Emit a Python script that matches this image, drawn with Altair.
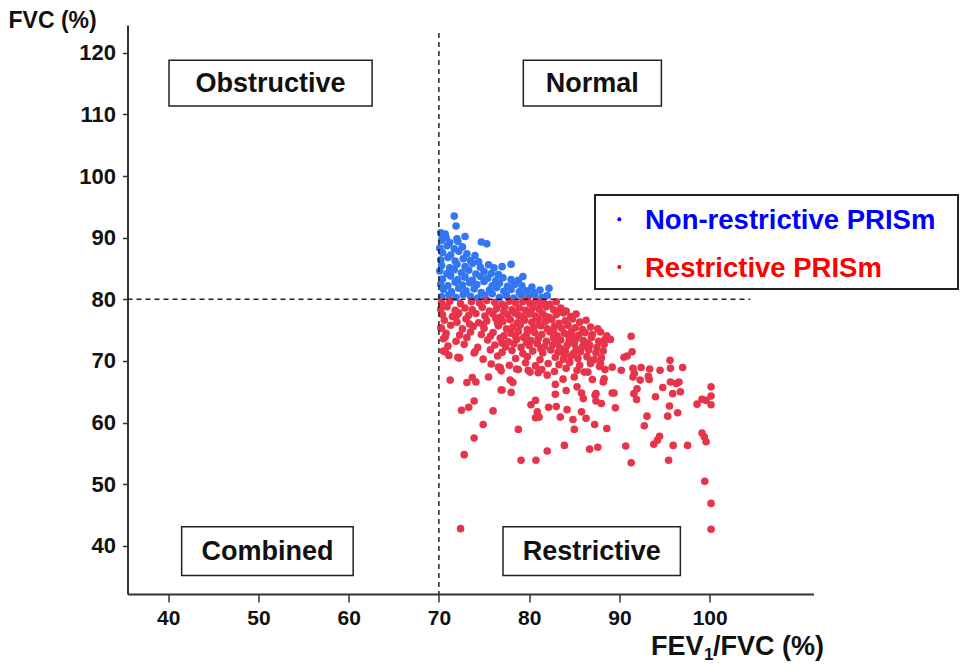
import altair as alt
import pandas as pd

# ---- data ----
blue_pts = [
    (71.7, 93.5), (71.9, 91.9), (70.4, 90.3), (70.7, 90.6), (72.1, 89.4), (72.9, 90.2),
    (74.7, 89.3), (75.3, 89.0), (77.0, 85.3), (78.0, 85.7), (76.1, 85.1), (79.3, 83.7),
    (78.8, 83.1), (82.2, 81.8), (81.2, 81.5), (80.3, 82.0),
    (70.3, 80.4), (71.1, 80.7), (71.9, 80.3), (72.7, 80.8), (73.5, 80.5), (74.3, 80.2),
    (75.1, 80.6), (75.9, 80.9), (76.7, 80.3), (77.5, 80.6), (78.3, 80.2), (79.1, 80.7),
    (79.9, 80.4), (80.6, 80.8), (81.4, 80.3), (82.0, 80.6),
    (70.5, 81.6), (71.4, 81.2), (72.2, 81.8), (73.0, 81.4), (73.9, 81.7), (74.7, 81.1),
    (75.6, 81.5), (76.4, 81.9), (77.2, 81.3), (78.0, 81.6), (78.9, 81.2), (79.7, 81.4),
    (80.5, 81.1),
    (70.2, 82.5), (71.0, 82.2), (71.8, 82.8), (72.6, 82.3), (73.4, 82.7), (74.2, 82.4),
    (75.0, 82.9), (75.9, 82.2), (76.7, 82.6), (77.6, 82.1), (78.4, 82.4), (79.2, 82.2),
    (70.4, 83.3), (71.3, 83.8), (72.1, 83.2), (72.9, 83.6), (73.7, 83.1), (74.6, 83.7),
    (75.4, 83.4), (76.3, 83.0), (77.1, 83.5), (78.0, 83.2),
    (70.1, 84.6), (70.9, 84.2), (71.7, 84.8), (72.5, 84.3), (73.3, 84.7), (74.1, 84.1),
    (75.0, 84.5), (75.8, 84.2), (76.6, 84.0),
    (70.3, 85.5), (71.2, 85.1), (72.0, 85.7), (72.9, 85.3), (73.7, 85.8), (74.6, 85.2),
    (75.5, 85.6),
    (70.2, 86.4), (71.0, 86.8), (71.8, 86.2), (72.7, 86.6), (73.5, 86.3), (74.4, 86.1),
    (70.4, 87.6), (71.3, 87.2), (72.2, 87.8), (73.1, 87.4), (74.0, 87.1),
    (70.1, 88.3), (70.9, 88.7), (71.7, 88.2), (72.6, 88.5),
    (70.3, 89.6), (71.2, 89.2), (72.0, 89.8),
    (70.2, 90.8), (70.8, 90.0),
]

red_pts = [
    # dense cluster
    (70.3, 79.5), (71.2, 79.7), (72.4, 79.3), (73.6, 79.6), (74.5, 79.4), (75.3, 79.8),
    (76.2, 79.5), (77.0, 79.2), (77.8, 79.7), (78.5, 79.4), (79.3, 79.6), (80.1, 79.3),
    (80.8, 79.7), (81.6, 79.5), (82.3, 79.2), (79.8, 79.9), (81.2, 79.1), (83.0, 79.6),
    (70.2, 78.4), (70.9, 78.8), (71.8, 78.2), (72.9, 78.6), (73.7, 78.3), (74.8, 78.7),
    (75.6, 78.1), (76.4, 78.5), (77.3, 78.8), (78.1, 78.3), (78.9, 78.6), (79.6, 78.2),
    (80.4, 78.7), (81.1, 78.4), (81.9, 78.8), (82.7, 78.3), (83.5, 78.6), (84.1, 78.1),
    (70.4, 77.5), (71.5, 77.2), (72.2, 77.8), (73.3, 77.4), (74.1, 77.7), (75.1, 77.3),
    (76.0, 77.6), (76.8, 77.1), (77.6, 77.5), (78.4, 77.8), (79.2, 77.2), (80.0, 77.6),
    (80.7, 77.3), (81.5, 77.7), (82.2, 77.1), (83.0, 77.5), (83.8, 77.8), (84.6, 77.2),
    (85.2, 77.6),
    (70.6, 76.6), (72.0, 76.3), (73.0, 76.8), (74.4, 76.2), (75.3, 76.5), (76.3, 76.9),
    (77.1, 76.4), (77.9, 76.7), (78.7, 76.2), (79.5, 76.6), (80.3, 76.3), (81.0, 76.8),
    (81.8, 76.4), (82.5, 76.7), (83.3, 76.1), (84.0, 76.5), (84.8, 76.8), (85.6, 76.3),
    (86.3, 76.6),
    (70.2, 75.4), (71.3, 75.8), (72.6, 75.2), (73.8, 75.6), (75.0, 75.3), (76.6, 75.7),
    (77.5, 75.2), (78.2, 75.5), (79.0, 75.8), (79.8, 75.1), (80.5, 75.4), (81.3, 75.7),
    (82.0, 75.2), (82.8, 75.6), (83.6, 75.3), (84.3, 75.8), (85.1, 75.4), (85.9, 75.1),
    (86.8, 75.5), (87.6, 75.2),
    (70.8, 74.5), (72.3, 74.2), (73.5, 74.7), (74.7, 74.3), (76.0, 74.6), (77.2, 74.1),
    (78.0, 74.5), (78.8, 74.8), (79.7, 74.2), (80.6, 74.6), (81.4, 74.3), (82.3, 74.7),
    (83.1, 74.1), (83.9, 74.5), (84.7, 74.8), (85.5, 74.2), (86.2, 74.6), (87.0, 74.3),
    (87.9, 74.7), (88.6, 74.1),
    (70.5, 73.6), (71.9, 73.2), (73.1, 73.8), (75.4, 73.4), (76.8, 73.7), (77.7, 73.1),
    (78.6, 73.5), (79.4, 73.8), (80.2, 73.3), (81.0, 73.6), (81.9, 73.2), (82.7, 73.7),
    (83.5, 73.4), (84.4, 73.1), (85.2, 73.6), (86.0, 73.3), (86.9, 73.8), (87.7, 73.2),
    (88.4, 73.5),
    (71.0, 72.4), (72.8, 72.7), (74.3, 72.2), (76.2, 72.6), (77.4, 72.3), (78.3, 72.8),
    (79.1, 72.2), (80.0, 72.5), (80.9, 72.8), (81.7, 72.3), (82.6, 72.6), (83.4, 72.1),
    (84.2, 72.5), (85.0, 72.8), (85.9, 72.3), (86.7, 72.6), (87.5, 72.2), (88.3, 72.7),
    (70.7, 71.5), (73.9, 71.3), (75.7, 71.8), (77.0, 71.4), (78.1, 71.7), (79.3, 71.2),
    (80.4, 71.6), (81.5, 71.3), (82.4, 71.8), (83.2, 71.4), (84.0, 71.7), (84.9, 71.2),
    (85.7, 71.5), (86.6, 71.8), (87.4, 71.3), (88.2, 71.6),
    (72.1, 70.6), (74.9, 70.3), (76.5, 70.8), (78.5, 70.4), (79.8, 70.7), (81.2, 70.2),
    (82.9, 70.6), (83.8, 70.3), (84.6, 70.8), (85.4, 70.4), (86.4, 70.7), (87.2, 70.2),
    (88.0, 70.5),
    (75.8, 69.5), (77.8, 69.3), (79.6, 69.7), (80.7, 69.2), (82.1, 69.6), (83.3, 69.4),
    (84.5, 69.8), (85.6, 69.3), (86.8, 69.6), (87.8, 69.1),
    (76.9, 68.4), (78.6, 68.7), (80.1, 68.2), (81.4, 68.6), (82.8, 68.3), (84.1, 68.8),
    (85.3, 68.5), (86.5, 68.2), (88.4, 68.6),
    # extra fill in the densest part
    (77.2, 78.0), (78.8, 77.4), (80.2, 78.0), (81.8, 77.2), (83.2, 77.9), (79.4, 76.9),
    (81.1, 75.9), (82.7, 75.0), (84.4, 74.0), (80.4, 74.9), (78.5, 74.0), (83.1, 73.0),
    (84.9, 73.9), (86.4, 72.9), (81.3, 72.0), (79.7, 73.0), (77.0, 72.9), (74.9, 75.9),
    (73.4, 76.0), (72.0, 77.4), (75.7, 74.0), (76.5, 76.1), (85.2, 71.9), (83.9, 70.9),
    # sparse tail
    (71.25, 66.9), (73.1, 66.5), (73.7, 67.3), (74.1, 66.6), (75.5, 67.4), (76.6, 69.0),
    (77.0, 65.3), (78.0, 64.9), (78.2, 66.5), (73.9, 63.5), (71.1, 70.9), (72.3, 70.5),
    (70.7, 73.9), (70.3, 75.3), (72.5, 62.0), (73.3, 62.5), (76.0, 61.9), (74.9, 59.7),
    (73.9, 57.5), (72.8, 54.8), (72.4, 42.8), (78.8, 58.9), (79.1, 53.9), (80.75, 53.9),
    (82.0, 55.4), (83.9, 56.3), (86.7, 55.7), (87.6, 56.0), (88.6, 59.05), (87.25, 59.7),
    (85.0, 58.9), (86.3, 60.7), (84.85, 60.5), (83.45, 60.9), (84.2, 62.1), (83.0, 62.6),
    (82.15, 62.5), (81.1, 60.9), (80.7, 60.8), (80.9, 61.75), (80.2, 62.9), (80.7, 63.6),
    (82.9, 64.6), (84.1, 65.2), (85.3, 65.8), (85.8, 64.8), (86.0, 63.9), (85.8, 61.75),
    (87.3, 64.45), (88.0, 63.1), (89.2, 64.8), (89.55, 62.4), (87.0, 67.0), (88.2, 66.6),
    (89.2, 69.0), (90.2, 68.5), (91.4, 71.5), (91.3, 74.0), (90.5, 70.6), (91.5, 68.8),
    (91.5, 67.4), (92.4, 68.95), (92.3, 66.9), (93.35, 68.7), (93.3, 67.0), (91.95, 65.5),
    (91.6, 64.7), (91.9, 63.75), (94.0, 64.2), (94.5, 68.5), (94.8, 65.7), (95.6, 70.1),
    (95.65, 68.8), (97.0, 68.95), (95.65, 66.6), (96.3, 66.35), (95.9, 64.7), (96.75, 65.0),
    (95.55, 62.7), (96.45, 61.6), (95.35, 61.05), (93.05, 61.05), (92.75, 59.5), (94.45, 57.8),
    (94.2, 57.15), (93.8, 56.5), (95.95, 56.3), (97.55, 56.3), (95.45, 53.9), (90.7, 56.2),
    (91.3, 53.5), (98.6, 63.0), (99.15, 63.8), (99.6, 63.6), (100.15, 65.8), (100.15, 64.3),
    (100.15, 62.9), (99.15, 58.3), (99.4, 57.7), (99.6, 56.9), (99.45, 50.5), (100.15, 46.9),
    (100.15, 42.7), (70.5, 71.6), (72.2, 70.5), (74.0, 71.5), (76.8, 68.95), (77.9, 66.9),
    (76.9, 65.3), (78.8, 68.6), (79.9, 68.5), (81.0, 68.1), (82.0, 67.7), (82.9, 66.2),
    (83.75, 67.05), (85.0, 67.4), (86.1, 68.2), (86.8, 70.1), (87.9, 69.6), (89.0, 73.5),
    (87.4, 63.5), (87.4, 64.7), (89.4, 64.8), (96.6, 66.6), (90.85, 70.8), (88.3, 67.1),
    (91.65, 68.0), (93.2, 67.5),
]

quad_names = ["Obstructive", "Normal", "Combined", "Restrictive"]
quad_x1 = [40.1, 79.35, 41.5, 77.1]
quad_x2 = [62.6, 94.65, 60.5, 96.75]
quad_y1 = [111.35, 111.35, 35.2, 35.2]
quad_y2 = [118.8, 118.8, 43.1, 43.1]

legend_labels = ["Non-restrictive PRISm", "Restrictive PRISm"]
legend_colors = ["#0000FF", "#FF0000"]

x_ticks = [40, 50, 60, 70, 80, 90, 100]
y_ticks = [40, 50, 60, 70, 80, 90, 100, 110, 120]

# ---- tables ----
pts = pd.DataFrame(
    [{"x": a, "y": b, "g": "blue"} for a, b in blue_pts]
    + [{"x": a, "y": b, "g": "red"} for a, b in red_pts]
)
quads = pd.DataFrame({"name": quad_names, "x1": quad_x1, "x2": quad_x2,
                      "y1": quad_y1, "y2": quad_y2})
quads["xm"] = (quads["x1"] + quads["x2"]) / 2
quads["ym"] = (quads["y1"] + quads["y2"]) / 2
vline = pd.DataFrame({"x": [70], "y": [123.2], "y2": [32.2]})
hline = pd.DataFrame({"y": [80], "x": [35.5], "x2": [104.5]})
one = pd.DataFrame({"k": [0]})

FONT = "Liberation Sans"
W, H = 686, 569
xs = alt.Scale(domain=[35.5, 111.5], nice=False, zero=False)
ys = alt.Scale(domain=[32.2, 124.5], nice=False, zero=False)

xaxis = alt.Axis(values=x_ticks, title=None, grid=False, labelFont=FONT,
                 labelFontWeight="bold", labelFontSize=21, labelColor="#111",
                 tickSize=8, tickWidth=1.5, tickColor="#333", domainColor="#333",
                 domainWidth=2, labelPadding=5)
yaxis = alt.Axis(values=y_ticks, title=None, grid=False, labelFont=FONT,
                 labelFontWeight="bold", labelFontSize=22, labelColor="#111",
                 tickSize=5, tickWidth=1.5, tickColor="#333", domainColor="#333",
                 domainWidth=2, labelPadding=7)

PT = 58
base_pts = alt.Chart(pts)
blue_layer = base_pts.transform_filter(alt.datum.g == "blue").mark_circle(
    size=PT, opacity=1, color="#3276F3").encode(
    x=alt.X("x:Q", scale=xs, axis=xaxis), y=alt.Y("y:Q", scale=ys, axis=yaxis))
red_layer = base_pts.transform_filter(alt.datum.g == "red").mark_circle(
    size=PT, opacity=1, color="#E8344A").encode(
    x=alt.X("x:Q", scale=xs), y=alt.Y("y:Q", scale=ys))

v_rule = alt.Chart(vline).mark_rule(color="#222", strokeWidth=1.5, strokeDash=[5, 4]).encode(
    x=alt.X("x:Q", scale=xs), y=alt.Y("y:Q", scale=ys), y2="y2:Q")
h_rule = alt.Chart(hline).mark_rule(color="#222", strokeWidth=1.5, strokeDash=[5, 4]).encode(
    y=alt.Y("y:Q", scale=ys), x=alt.X("x:Q", scale=xs), x2="x2:Q")

q_box = alt.Chart(quads).mark_rect(fill="white", stroke="#222", strokeWidth=1.5).encode(
    x=alt.X("x1:Q", scale=xs), x2="x2:Q", y=alt.Y("y1:Q", scale=ys), y2="y2:Q")
q_text = alt.Chart(quads).mark_text(font=FONT, fontWeight="bold", fontSize=27,
                                     color="#111", baseline="middle", dy=1).encode(
    x=alt.X("xm:Q", scale=xs), y=alt.Y("ym:Q", scale=ys), text="name:N")

leg_box = alt.Chart(one).mark_rect(fill="white", stroke="#222", strokeWidth=2).encode(
    x=alt.value(467.5), x2=alt.value(830.5), y=alt.value(170), y2=alt.value(264))
leg_dot1 = alt.Chart(one).mark_circle(size=16, opacity=1, color=legend_colors[0]).encode(
    x=alt.value(491.8), y=alt.value(194.3))
leg_dot2 = alt.Chart(one).mark_circle(size=16, opacity=1, color=legend_colors[1]).encode(
    x=alt.value(491.8), y=alt.value(242))
leg_t1 = alt.Chart(one).mark_text(font=FONT, fontWeight="bold", fontSize=27.5, align="left",
                                   baseline="middle", color=legend_colors[0],
                                   text=legend_labels[0]).encode(
    x=alt.value(517.5), y=alt.value(195.5))
leg_t2 = alt.Chart(one).mark_text(font=FONT, fontWeight="bold", fontSize=27.5, align="left",
                                   baseline="middle", color=legend_colors[1],
                                   text=legend_labels[1]).encode(
    x=alt.value(517.5), y=alt.value(243.5))

ytitle = alt.Chart(one).mark_text(font=FONT, fontWeight="bold", fontSize=23, align="left",
                                   baseline="alphabetic", color="#111", text="FVC (%)").encode(
    x=alt.value(-119), y=alt.value(3))
xt1 = alt.Chart(one).mark_text(font=FONT, fontWeight="bold", fontSize=27, align="left",
                                baseline="alphabetic", color="#111", text="FEV").encode(
    x=alt.value(523.5), y=alt.value(630))
xt2 = alt.Chart(one).mark_text(font=FONT, fontWeight="bold", fontSize=17, align="left",
                                baseline="alphabetic", color="#111", text="1").encode(
    x=alt.value(576.5), y=alt.value(635))
xt3 = alt.Chart(one).mark_text(font=FONT, fontWeight="bold", fontSize=27, align="left",
                                baseline="alphabetic", color="#111", text="/FVC (%)").encode(
    x=alt.value(585.5), y=alt.value(630))

chart = alt.layer(
    blue_layer, red_layer, v_rule, h_rule, q_box, q_text,
    leg_box, leg_dot1, leg_dot2, leg_t1, leg_t2, ytitle, xt1, xt2, xt3
).properties(
    width=W, height=H,
    autosize=alt.AutoSizeParams(type="none"),
    padding={"left": 119.5, "top": 17, "right": 146, "bottom": 70},
    background="white",
).configure_view(strokeWidth=0)

chart.save("out.html", embed_options={"renderer": "svg", "actions": False})
